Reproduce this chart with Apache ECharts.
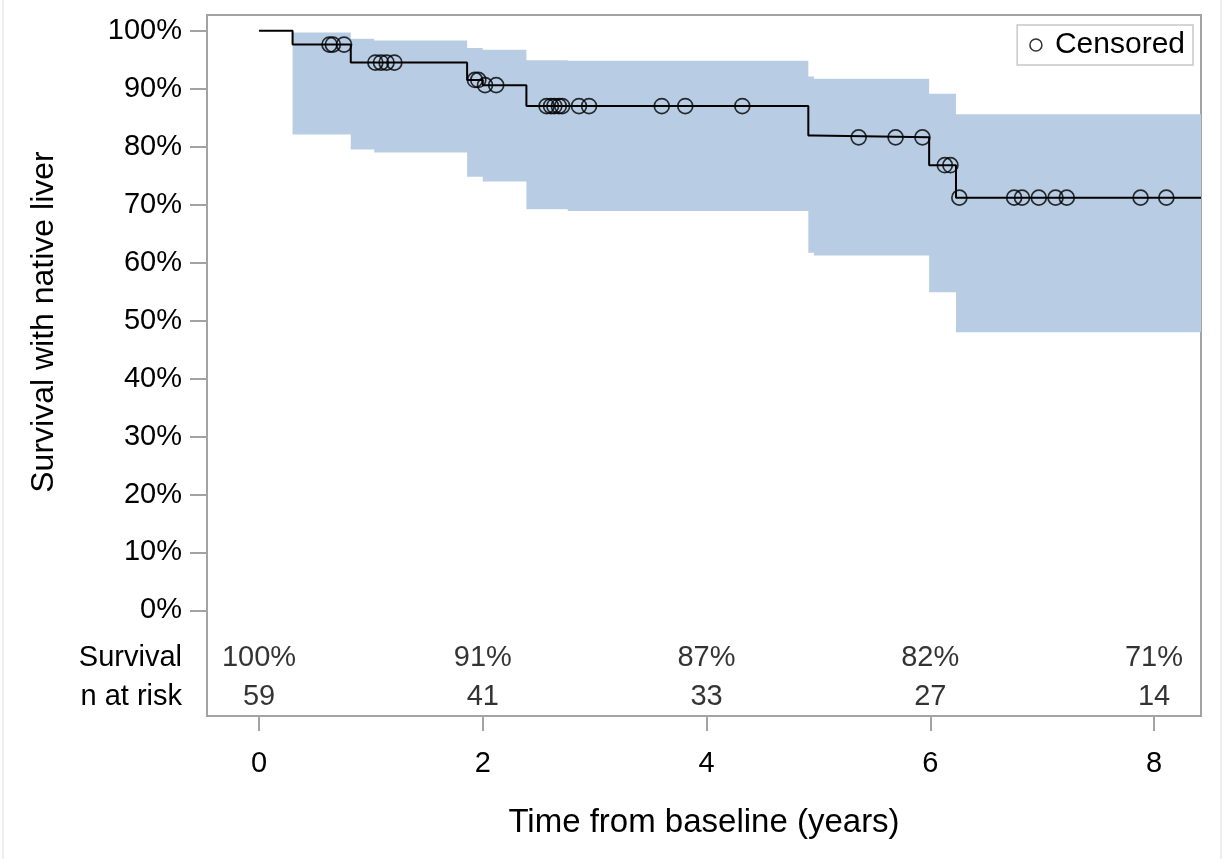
<!DOCTYPE html>
<html>
<head>
<meta charset="utf-8">
<script src="https://cdn.jsdelivr.net/npm/echarts@6/dist/echarts.min.js"></script>
<style>
  html, body { margin: 0; padding: 0; background: #fff; }
  #main { width: 1223px; height: 859px; }
</style>
</head>
<body>
<div id="main"></div>
<script>
// Kaplan-Meier steps: time (years) and survival (%) after each step
var kmTimes = [0, 0.30, 0.82, 1.86, 2.00, 2.39, 4.91, 4.96, 5.99, 6.23, 8.42];
var kmSurv = [100, 97.6, 94.5, 91.5, 90.6, 87.0, 81.9, 81.6, 76.8, 71.2, 71.2];

// confidence band (each value holds until the next time)
var ciTimes = [0.30, 0.82, 1.03, 1.86, 2.00, 2.39, 2.76, 4.91, 4.96, 5.99, 6.23, 8.42];
var ciUpper = [99.7, 98.6, 98.3, 97.0, 96.7, 94.9, 94.8, 92.1, 91.7, 89.1, 85.6, 85.6];
var ciLower = [82.1, 79.5, 79.0, 74.8, 74.0, 69.2, 68.9, 61.7, 61.2, 54.9, 48.0, 48.0];

// censored observations
var censorTimes = [0.63, 0.66, 0.76, 1.04, 1.09, 1.14, 1.21, 1.93, 1.96, 2.02, 2.12,
  2.57, 2.61, 2.64, 2.68, 2.71, 2.86, 2.95, 3.60, 3.81, 4.32,
  5.36, 5.69, 5.93, 6.13, 6.18, 6.26, 6.75, 6.82, 6.97, 7.12, 7.22, 7.88, 8.11];

// numbers at risk table
var riskTimes = [0, 2, 4, 6, 8];
var riskSurvival = ['100%', '91%', '87%', '82%', '71%'];
var riskN = ['59', '41', '33', '27', '14'];

var xTicks = [0, 2, 4, 6, 8];
var yTicks = [0, 10, 20, 30, 40, 50, 60, 70, 80, 90, 100];

var FONT = '"Liberation Sans", Arial, sans-serif';
var ROW_SURV = -8.2, ROW_N = -14.9;
var BAND = '#b8cde4';

function survAt(t) {
  var s = kmSurv[0];
  for (var i = 0; i < kmTimes.length; i++) {
    if (kmTimes[i] <= t) s = kmSurv[i];
  }
  return s;
}

var chart = echarts.init(document.getElementById('main'));

var option = {
  backgroundColor: '#fff',
  animation: false,
  textStyle: { fontFamily: FONT },
  grid: {
    left: 207, right: 22, top: 15, bottom: 143,
    show: true, borderColor: '#a3a3a3', borderWidth: 2
  },
  legend: {
    data: ['Censored'],
    top: 25, right: 30,
    borderColor: '#c8c8c8', borderWidth: 1.5,
    padding: [5, 8, 5, 12],
    itemWidth: 12, itemHeight: 12,
    itemStyle: { color: '#fff', borderColor: '#000', borderWidth: 1.5 },
    textStyle: { fontSize: 30, color: '#000', fontFamily: FONT, padding: [0, 0, 0, 8] }
  },
  xAxis: {
    type: 'value',
    min: -0.465, max: 8.42,
    splitLine: { show: false },
    axisLine: { show: false, onZero: false },
    axisTick: { show: true, length: 15, customValues: xTicks, lineStyle: { color: '#a3a3a3', width: 2 } },
    axisLabel: { customValues: xTicks, fontSize: 29, color: '#000', margin: 33, fontFamily: FONT },
    name: 'Time from baseline (years)',
    nameLocation: 'middle', nameGap: 90,
    nameTextStyle: { fontSize: 33, color: '#000', fontFamily: FONT }
  },
  yAxis: {
    type: 'value',
    min: -18.2, max: 102.7,
    splitLine: { show: false },
    axisLine: { show: false, onZero: false },
    axisTick: { show: true, length: 17, customValues: yTicks, lineStyle: { color: '#a3a3a3', width: 2 } },
    axisLabel: {
      customValues: [ROW_N, ROW_SURV].concat(yTicks),
      fontSize: 29, color: '#000', margin: 25, fontFamily: FONT,
      formatter: function (v) {
        if (v === ROW_SURV) return 'Survival';
        if (v === ROW_N) return 'n at risk';
        return v + '%';
      }
    }
  },
  graphic: [
    {
      type: 'text', x: 44, y: 322, rotation: Math.PI / 2,
      style: { text: 'Survival with native liver', font: '32px ' + FONT, fill: '#000', align: 'center', verticalAlign: 'middle' }
    },
    { type: 'line', shape: { x1: 3, y1: 0, x2: 3, y2: 859 }, style: { stroke: '#dcdcdc', lineWidth: 1 } },
    { type: 'line', shape: { x1: 1221, y1: 0, x2: 1221, y2: 859 }, style: { stroke: '#dcdcdc', lineWidth: 1 } }
  ],
  series: [
    {
      // whole band drawn as one step polygon from the first item
      name: 'ciBand', type: 'custom', silent: true, z: 1,
      renderItem: function (params, api) {
        if (params.dataIndex !== 0) return null;
        var pts = [];
        var n = ciTimes.length;
        for (var i = 0; i < n - 1; i++) {
          pts.push(api.coord([ciTimes[i], ciUpper[i]]));
          pts.push(api.coord([ciTimes[i + 1], ciUpper[i]]));
        }
        for (var j = n - 2; j >= 0; j--) {
          pts.push(api.coord([ciTimes[j + 1], ciLower[j]]));
          pts.push(api.coord([ciTimes[j], ciLower[j]]));
        }
        return { type: 'polygon', shape: { points: pts }, style: { fill: BAND } };
      },
      data: ciTimes.map(function (t, i) { return [t, ciLower[i], ciUpper[i]]; })
    },
    {
      name: 'Survival', type: 'line', step: 'end', symbol: 'none', z: 3,
      lineStyle: { color: '#000', width: 2 },
      data: kmTimes.map(function (t, i) { return [t, kmSurv[i]]; })
    },
    {
      name: 'Censored', type: 'scatter', symbol: 'circle', symbolSize: 15, z: 4,
      itemStyle: { color: 'rgba(0,0,0,0)', borderColor: '#000', borderWidth: 1.7 },
      data: censorTimes.map(function (t) { return [t, survAt(t)]; })
    },
    {
      name: 'riskSurv', type: 'scatter', symbolSize: 0, silent: true,
      label: {
        show: true, position: 'inside', fontSize: 29, color: '#000', fontFamily: FONT,
        formatter: function (p) { return riskSurvival[p.dataIndex]; }
      },
      data: riskTimes.map(function (t) { return [t, ROW_SURV]; })
    },
    {
      name: 'riskN', type: 'scatter', symbolSize: 0, silent: true,
      label: {
        show: true, position: 'inside', fontSize: 29, color: '#000', fontFamily: FONT,
        formatter: function (p) { return riskN[p.dataIndex]; }
      },
      data: riskTimes.map(function (t) { return [t, ROW_N]; })
    }
  ]
};

chart.setOption(option);
</script>
</body>
</html>
